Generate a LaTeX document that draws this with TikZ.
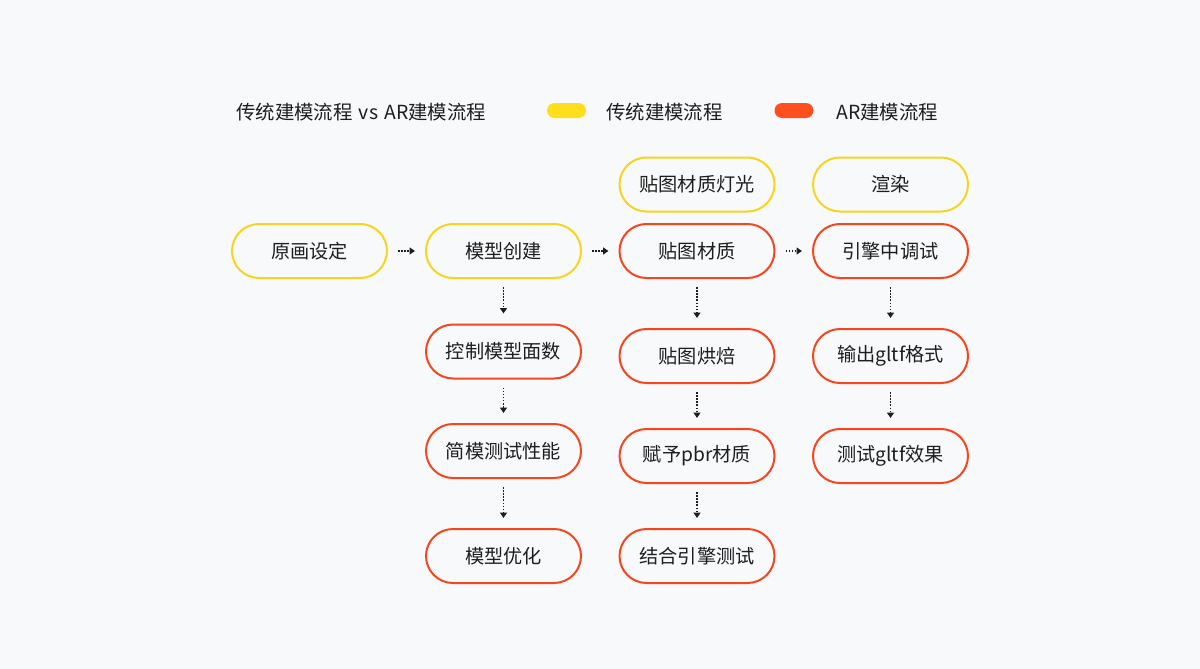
\documentclass[tikz,border=0pt]{standalone}
\usepackage{fontspec}
\setmainfont{Noto Sans CJK SC}
\usetikzlibrary{arrows.meta}
\definecolor{bgc}{HTML}{F8F9FA}
\definecolor{yelc}{HTML}{F7D51E}
\definecolor{yelfill}{HTML}{FDDF1C}
\definecolor{redc}{HTML}{F5461F}
\definecolor{redfill}{HTML}{FF4F1F}
\definecolor{txt}{HTML}{1E1E1E}
\tikzset{
  box/.style={rectangle, rounded corners=27pt, minimum width=155pt, minimum height=54pt,
    inner sep=0pt, line width=2pt, fill=bgc, text=txt, font=\fontsize{19.2}{20}\selectfont},
  ybox/.style={box, draw=yelc},
  rbox/.style={box, draw=redc},
  flow/.style={line width=1.5pt, dash pattern=on 1.5pt off 1.6pt, txt,
    -{Triangle[length=5.5pt,width=7pt]}},
  hflow/.style={flow, shorten <=10pt, shorten >=10pt},
  vflow/.style={flow, shorten <=8pt, shorten >=10pt},
  swatch/.style={rectangle, rounded corners=7.5pt, minimum width=39pt, minimum height=15pt, inner sep=0pt},
  legtxt/.style={anchor=west, inner sep=0pt, text=txt, font=\fontsize{19.4}{20}\selectfont}
}
\begin{document}
\begin{tikzpicture}[x=1pt,y=-1pt]
\fill[bgc] (0,0) rectangle (1200,669);
\useasboundingbox (0,0) rectangle (1200,669);

% legend
\node[legtxt] (title) at (236,112) {传统建模流程\hspace{2pt} vs\hspace{2pt} AR建模流程};
\node[swatch, fill=yelfill] (sw1) at (566.5,110.5) {};
\node[legtxt] (lg1) at (606,112) {传统建模流程};
\node[swatch, fill=redfill] (sw2) at (794,110.5) {};
\node[legtxt] (lg2) at (836,112) {AR建模流程};

% column 1
\node[ybox] (a1) at (309.5,251) {原画设定};
% column 2
\node[ybox] (b1) at (503.5,251) {模型创建};
\node[rbox] (b2) at (503.5,351.5) {控制模型面数};
\node[rbox] (b3) at (503.5,451) {简模测试性能};
\node[rbox] (b4) at (503.5,556) {模型优化};
% column 3
\node[ybox] (c0) at (697,184.5) {贴图材质灯光};
\node[rbox] (c1) at (697,251) {贴图材质};
\node[rbox] (c2) at (697,356) {贴图烘焙};
\node[rbox] (c3) at (697,456) {赋予pbr材质};
\node[rbox] (c4) at (697,556) {结合引擎测试};
% column 4
\node[ybox] (d0) at (890.5,184.5) {渲染};
\node[rbox] (d1) at (890.5,251) {引擎中调试};
\node[rbox] (d2) at (890.5,356) {输出gltf格式};
\node[rbox] (d3) at (890.5,456) {测试gltf效果};

% horizontal arrows
\draw[hflow] (a1) -- (b1);
\draw[hflow] (b1) -- (c1);
\draw[hflow] (c1) -- (d1);
% vertical arrows
\draw[vflow] (b1) -- (b2);
\draw[vflow] (b2) -- (b3);
\draw[vflow] (b3) -- (b4);
\draw[vflow] (c1) -- (c2);
\draw[vflow] (c2) -- (c3);
\draw[vflow] (c3) -- (c4);
\draw[vflow] (d1) -- (d2);
\draw[vflow] (d2) -- (d3);
\end{tikzpicture}
\end{document}
